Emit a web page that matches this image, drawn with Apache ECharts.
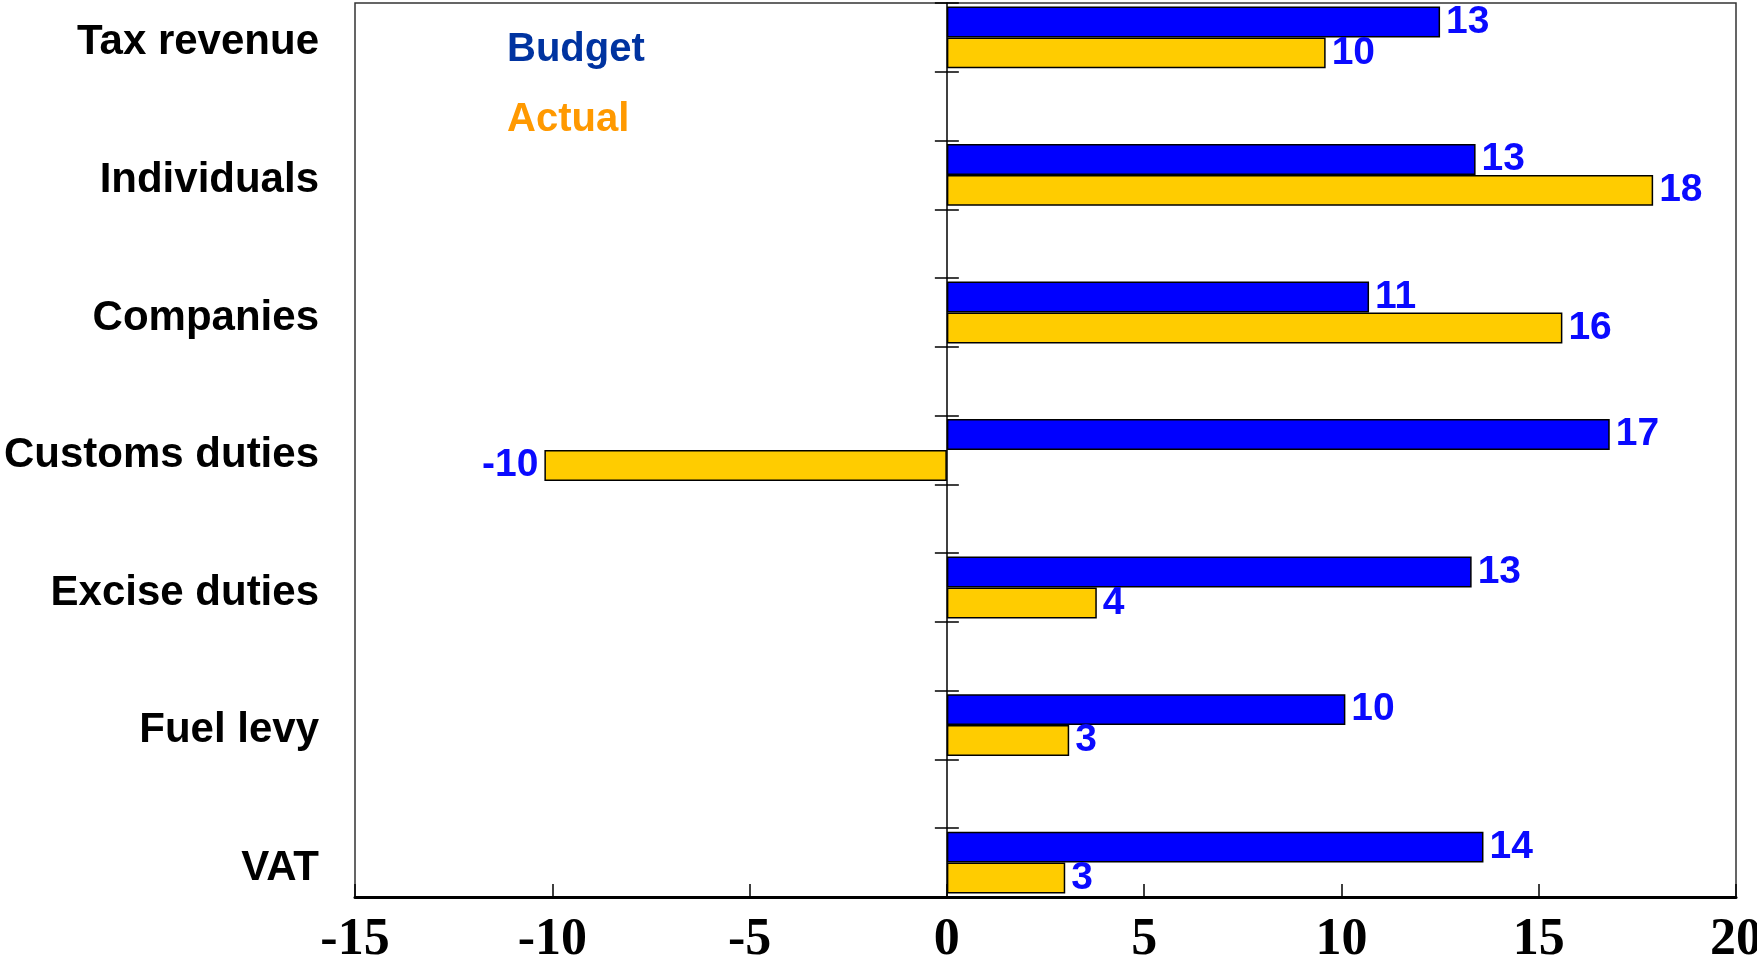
<!DOCTYPE html>
<html>
<head>
<meta charset="utf-8">
<script src="https://cdn.jsdelivr.net/npm/echarts@6/dist/echarts.min.js"></script>
<style>
  html, body { margin: 0; padding: 0; background: #fff; }
  #main { width: 1757px; height: 973px; }
</style>
</head>
<body>
<div id="main"></div>
<script>
// categories, top to bottom
const categories = ['Tax revenue', 'Individuals', 'Companies', 'Customs duties', 'Excise duties', 'Fuel levy', 'VAT']
// series values (% change)
const budget = [12.5, 13.4, 10.7, 16.8, 13.3, 10.1, 13.6]
const actual = [9.6, 17.9, 15.6, -10.2, 3.8, 3.1, 3.0]
// x axis
const xMin = -15
const xMax = 20
const xStep = 5

// the source chart leaves an empty slot between each category
const slots = []
const budgetSlots = []
const actualSlots = []
categories.forEach((c, i) => {
    slots.push(c)
    budgetSlots.push(budget[i])
    actualSlots.push(actual[i])
    if (i < categories.length - 1) {
        slots.push('')
        budgetSlots.push('-')
        actualSlots.push('-')
    }
})

function withLabelSide(arr) {
    return arr.map(v => {
        if (v === '-') return v
        return { value: v, label: { position: v < 0 ? 'left' : 'right' } }
    })
}

const labelStyle = {
    show: true,
    distance: 6,
    color: '#0a0aff',
    fontFamily: 'Liberation Sans, Arial, sans-serif',
    fontWeight: 'bold',
    fontSize: 39,
    formatter: p => Math.round(p.value)
}

const chart = echarts.init(document.getElementById('main'))

chart.setOption({
    animation: false,
    legend: {
        orient: 'vertical',
        left: 496,
        top: 25,
        itemWidth: 0,
        itemHeight: 0,
        itemGap: 30,
        icon: 'rect',
        selectedMode: false,
        textStyle: {
            fontFamily: 'Liberation Sans, Arial, sans-serif',
            fontWeight: 'bold',
            fontSize: 40,
            lineHeight: 40
        },
        data: [
            { name: 'Budget', textStyle: { color: '#0033a0' } },
            { name: 'Actual', textStyle: { color: '#ff9900' } }
        ]
    },
    grid: {
        left: 355,
        right: 21,
        top: 3,
        height: 894,
        outerBoundsMode: 'none',
        show: true,
        borderColor: '#333',
        borderWidth: 1.5
    },
    xAxis: {
        type: 'value',
        min: xMin,
        max: xMax,
        interval: xStep,
        splitLine: { show: false },
        axisLine: { show: true, lineStyle: { color: '#000', width: 3 } },
        axisTick: { show: true, inside: true, length: 13, lineStyle: { color: '#000', width: 1.5 } },
        axisLabel: {
            color: '#000',
            fontFamily: 'Liberation Serif, Times New Roman, serif',
            fontWeight: 'bold',
            fontSize: 52,
            margin: 18
        }
    },
    yAxis: [
        {
            // category names at the left edge
            type: 'category',
            inverse: true,
            data: slots,
            position: 'left',
            axisLine: { show: false, onZero: false },
            axisTick: { show: false },
            axisLabel: {
                interval: 0,
                margin: 36,
                formatter: v => v ? '{c|' + v + '}' : '',
                rich: {
                    c: {
                        color: '#000',
                        fontFamily: 'Liberation Sans, Arial, sans-serif',
                        fontWeight: 'bold',
                        fontSize: 42,
                        padding: [11, 0, 0, 0]
                    }
                }
            }
        },
        {
            // zero line with ticks pointing right
            type: 'category',
            inverse: true,
            data: slots,
            position: 'left',
            axisLine: { show: true, onZero: true, onZeroAxisIndex: 0, lineStyle: { color: '#000', width: 1.5 } },
            axisTick: { show: true, inside: true, interval: 0, length: 12, lineStyle: { color: '#000', width: 1.5 } },
            axisLabel: { show: false }
        },
        {
            // same ticks pointing left
            type: 'category',
            inverse: true,
            data: slots,
            position: 'left',
            axisLine: { show: false, onZero: true, onZeroAxisIndex: 0 },
            axisTick: { show: true, inside: false, interval: 0, length: 12, lineStyle: { color: '#000', width: 1.5 } },
            axisLabel: { show: false }
        }
    ],
    series: [
        {
            name: 'Budget',
            type: 'bar',
            yAxisIndex: 0,
            barGap: '0%',
            barCategoryGap: '10%',
            itemStyle: { color: '#0000ff', borderColor: '#000', borderWidth: 1.5 },
            label: labelStyle,
            data: withLabelSide(budgetSlots)
        },
        {
            name: 'Actual',
            type: 'bar',
            yAxisIndex: 0,
            barGap: '0%',
            barCategoryGap: '10%',
            itemStyle: { color: '#ffcc00', borderColor: '#000', borderWidth: 1.5 },
            label: labelStyle,
            data: withLabelSide(actualSlots)
        }
    ]
})
</script>
</body>
</html>
